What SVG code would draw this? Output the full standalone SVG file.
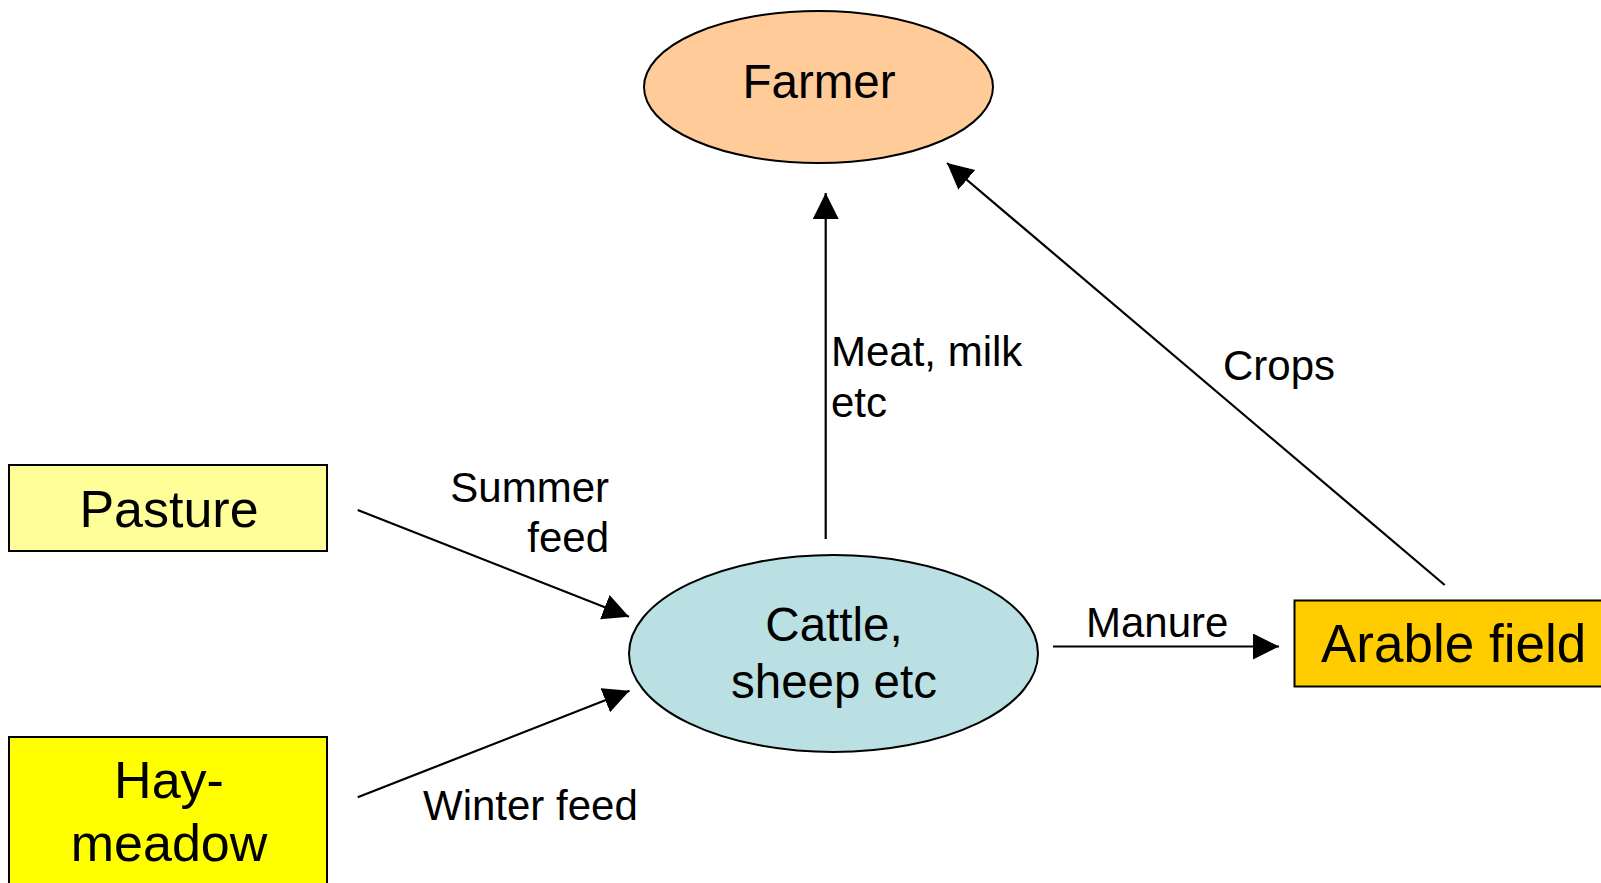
<svg xmlns="http://www.w3.org/2000/svg" width="1601" height="883" viewBox="0 0 1601 883">
<style>
.node{stroke:#000;stroke-width:2}
.big{font-family:"Liberation Sans",Arial,sans-serif;font-size:52px;fill:#000}
.mid{font-family:"Liberation Sans",Arial,sans-serif;font-size:47.5px;fill:#000}
.lbl{font-family:"Liberation Sans",Arial,sans-serif;font-size:42px;fill:#000}
.edge{stroke:#000;stroke-width:2.2;fill:none;marker-end:url(#ah)}
</style>
<defs>
<marker id="ah" markerUnits="userSpaceOnUse" markerWidth="27" markerHeight="27" refX="26" refY="13" orient="auto">
<path d="M0,0 L26,13 L0,26 Z" fill="#000"/>
</marker>
</defs>
<rect width="1601" height="883" fill="#fff"/>
<g id="farmer">
<ellipse class="node" cx="818.5" cy="87" rx="174.5" ry="76" fill="#FFCC99"/>
<text class="mid" x="819" y="98" text-anchor="middle">Farmer</text>
</g>
<g id="pasture">
<rect class="node" x="9" y="465" width="318" height="86" fill="#FFFF99"/>
<text class="big" x="169" y="527" text-anchor="middle">Pasture</text>
</g>
<g id="haymeadow">
<rect class="node" x="9" y="737" width="318" height="160" fill="#FFFF00"/>
<text class="big" x="169" y="798" text-anchor="middle">Hay-</text>
<text class="big" x="169" y="861" text-anchor="middle">meadow</text>
</g>
<g id="cattle">
<ellipse class="node" cx="833.5" cy="653.5" rx="204.5" ry="98.5" fill="#BAE0E3"/>
<text class="mid" x="834" y="641" text-anchor="middle">Cattle,</text>
<text class="mid" x="834" y="698" text-anchor="middle">sheep etc</text>
</g>
<g id="arable">
<rect class="node" x="1294.5" y="600.5" width="320" height="86" fill="#FFCC00"/>
<text class="big" x="1321" y="662" style="font-size:53px">Arable field</text>
</g>
<g id="connectors">
<line class="edge" x1="825.7" y1="539" x2="825.7" y2="193"/>
<line class="edge" x1="1444.7" y1="585" x2="947" y2="163"/>
<line class="edge" x1="357.7" y1="510" x2="629" y2="616.7"/>
<line class="edge" x1="357.7" y1="797.3" x2="629.5" y2="690.7"/>
<line class="edge" x1="1053" y1="646.5" x2="1279" y2="646.5"/>
<text class="lbl" x="609" y="502" text-anchor="end">Summer</text>
<text class="lbl" x="609" y="552" text-anchor="end">feed</text>
<text class="lbl" x="423" y="820">Winter feed</text>
<text class="lbl" x="831" y="366">Meat, milk</text>
<text class="lbl" x="831" y="417">etc</text>
<text class="lbl" x="1223" y="380">Crops</text>
<text class="lbl" x="1086" y="637">Manure</text>
</g>
</svg>
